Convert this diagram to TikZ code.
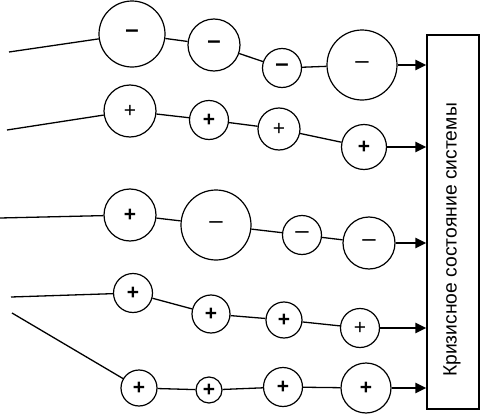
\documentclass[tikz,border=0pt]{standalone}
\usepackage{fontspec}
\setmainfont{Liberation Sans}
\usetikzlibrary{arrows.meta}
\tikzset{
  circ/.style={circle, draw, line width=1.2pt, inner sep=0pt, font=\fontsize{21}{21}\selectfont},
  conn/.style={line width=1.3pt},
  feed/.style={line width=2.6pt, -{Triangle[length=11pt,width=10pt]}},
  sysbox/.style={draw, line width=1.3pt, minimum width=52pt, minimum height=374pt, inner sep=0pt}
}
\newcommand{\bm}{{\fontsize{24}{24}\selectfont\textbf{–}}}
\newcommand{\tm}{{\fontsize{24}{24}\selectfont –}}
\newcommand{\bp}{\textbf{+}}
\newcommand{\tp}{+}
\begin{document}
\begin{tikzpicture}[x=1pt,y=-1pt]
\useasboundingbox (0,0) rectangle (480,415);
% system box
\node[sysbox] (box) at (453,222) {};
\node[rotate=90, font=\fontsize{19.3}{19.3}\selectfont] (lbl) at (452,240) {Кризисное состояние системы};
% row 1
\coordinate (s1) at (9,52);
\node[circ, minimum size=66pt] (A1) at (132,34) {\bm};
\node[circ, minimum size=52pt] (A2) at (214,45) {\bm};
\node[circ, minimum size=39pt] (A3) at (282,68) {\bm};
\node[circ, minimum size=70pt] (A4) at (362,65) {\tm};
% row 2
\coordinate (s2) at (7,130);
\node[circ, minimum size=52pt] (B1) at (130,111) {\tp};
\node[circ, minimum size=39pt] (B2) at (209,120) {\bp};
\node[circ, minimum size=42pt] (B3) at (279,129) {\tp};
\node[circ, minimum size=45pt] (B4) at (364,147) {\bp};
% row 3
\coordinate (s3) at (0,218);
\node[circ, minimum size=52pt] (C1) at (130,215) {\bp};
\node[circ, minimum size=70pt] (C2) at (216,225) {\tm};
\node[circ, minimum size=39pt] (C3) at (302,235) {\tm};
\node[circ, minimum size=52pt] (C4) at (369,243) {\tm};
% row 4
\coordinate (s4) at (11,297);
\node[circ, minimum size=39pt] (D1) at (133,293) {\bp};
\node[circ, minimum size=38pt] (D2) at (211,314) {\bp};
\node[circ, minimum size=36pt] (D3) at (284,320) {\bp};
\node[circ, minimum size=39pt] (D4) at (360,328) {\tp};
% row 5
\coordinate (s5) at (12,313);
\node[circ, minimum size=36pt] (E1) at (139,388) {\bp};
\node[circ, minimum size=26pt] (E2) at (209,390) {\bp};
\node[circ, minimum size=39pt] (E3) at (283,387) {\bp};
\node[circ, minimum size=50pt] (E4) at (366,388) {\bp};
% connectors
\draw[conn] (s1) -- (A1) -- (A2) -- (A3) -- (A4);
\draw[conn] (s2) -- (B1) -- (B2) -- (B3) -- (B4);
\draw[conn] (s3) -- (C1) -- (C2) -- (C3) -- (C4);
\draw[conn] (s4) -- (D1) -- (D2) -- (D3) -- (D4);
\draw[conn] (s5) -- (E1) -- (E2) -- (E3) -- (E4);
% arrows to box
\draw[feed] (A4.east) -- (A4.east -| box.west);
\draw[feed] (B4.east) -- (B4.east -| box.west);
\draw[feed] (C4.east) -- (C4.east -| box.west);
\draw[feed] (D4.east) -- (D4.east -| box.west);
\draw[feed] (E4.east) -- (E4.east -| box.west);
\end{tikzpicture}
\end{document}
